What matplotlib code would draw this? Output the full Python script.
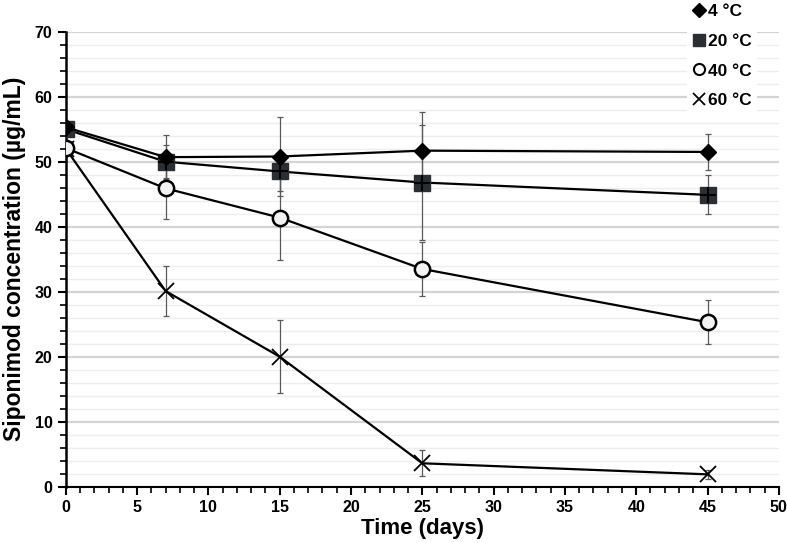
import matplotlib
matplotlib.use("Agg")
import matplotlib.pyplot as plt
from matplotlib.ticker import MultipleLocator
from matplotlib.lines import Line2D

# values
time_days = [0, 7, 15, 25, 45]

conc_4 = [55.3, 50.7, 50.8, 51.7, 51.5]
err_4 = [1.0, 3.4, 6.1, 5.9, 2.7]

conc_20 = [55.0, 50.0, 48.5, 46.8, 44.9]
err_20 = [1.0, 2.5, 3.0, 8.9, 3.0]

conc_40 = [52.1, 45.9, 41.4, 33.5, 25.3]
err_40 = [1.0, 4.7, 6.5, 4.2, 3.4]

conc_60 = [52.0, 30.1, 20.0, 3.6, 1.9]
err_60 = [1.0, 3.8, 5.6, 2.0, 0.7]

labels = ["4 °C", "20 °C", "40 °C", "60 °C"]

plt.rcParams['font.family'] = ['Liberation Sans', 'DejaVu Sans']
plt.rcParams['font.weight'] = 'bold'

fig = plt.figure(figsize=(7.87, 5.43), dpi=100)
ax = fig.add_axes([0.0836, 0.1037, 0.9060, 0.8379])

# error bars first so the markers sit on top
for y, e in [(conc_4, err_4), (conc_20, err_20), (conc_40, err_40), (conc_60, err_60)]:
    ax.errorbar(time_days, y, yerr=e, fmt='none', ecolor='#595959',
                elinewidth=0.9, capsize=2, capthick=0.9, zorder=3)

ax.plot(time_days, conc_60, color='black', lw=1.6, marker='x', ms=11,
        mew=1.3, zorder=4)
ax.plot(time_days, conc_40, color='black', lw=1.6, marker='o', ms=11,
        mfc='#f2f2f2', mec='black', mew=1.8, zorder=5)
ax.plot(time_days, conc_20, color='black', lw=1.6, marker='s', ms=11,
        mfc='#2b2f33', mec='#2b2f33', zorder=6)
ax.plot(time_days, conc_20, ls='none', marker='+', ms=11, mec='black',
        mew=1.5, zorder=6)
ax.plot(time_days, conc_4, color='black', lw=1.6, marker='D', ms=8,
        mfc='black', mec='black', zorder=7)

ax.set_xlim(0, 50)
ax.set_ylim(0, 70)
ax.xaxis.set_major_locator(MultipleLocator(5))
ax.xaxis.set_minor_locator(MultipleLocator(1))
ax.yaxis.set_major_locator(MultipleLocator(10))
ax.yaxis.set_minor_locator(MultipleLocator(2))

ax.grid(which='major', axis='y', color='#d4d4d4', lw=1.6, zorder=0)
ax.grid(which='minor', axis='y', color='#eeeeee', lw=1.0, zorder=0)
ax.set_axisbelow(True)

for s in ['top', 'right']:
    ax.spines[s].set_visible(False)
ax.spines['left'].set_linewidth(1.8)
ax.spines['bottom'].set_linewidth(1.5)

ax.tick_params(which='major', length=6, width=1.5, labelsize=11.5)
ax.tick_params(which='minor', length=4, width=1.2)
for t in ax.get_xticklabels() + ax.get_yticklabels():
    t.set_fontweight('bold')

ax.set_xlabel('Time (days)', fontsize=16, fontweight='bold', labelpad=2)
ax.set_ylabel('Siponimod concentration (µg/mL)', fontsize=16.5,
              fontweight='bold', labelpad=6)

handles = [
    Line2D([], [], ls='none', marker='D', ms=7, mfc='black', mec='black'),
    Line2D([], [], ls='none', marker='s', ms=9, mfc='#2b2f33', mec='#2b2f33'),
    Line2D([], [], ls='none', marker='o', ms=8, mfc='white', mec='black', mew=1.5),
    Line2D([], [], ls='none', marker='x', ms=9, mec='black', mew=1.3),
]
leg = fig.legend(handles, labels, loc='upper left',
                 bbox_to_anchor=(0.862, 1.019), frameon=True,
                 handlelength=0.8, handletextpad=0.1, labelspacing=0.85,
                 prop={'weight': 'bold', 'size': 12.5}, borderpad=0.3)
leg.get_frame().set_edgecolor('none')
leg.get_frame().set_facecolor('white')
leg.get_frame().set_alpha(1)

fig.savefig('out.png', dpi=100)
